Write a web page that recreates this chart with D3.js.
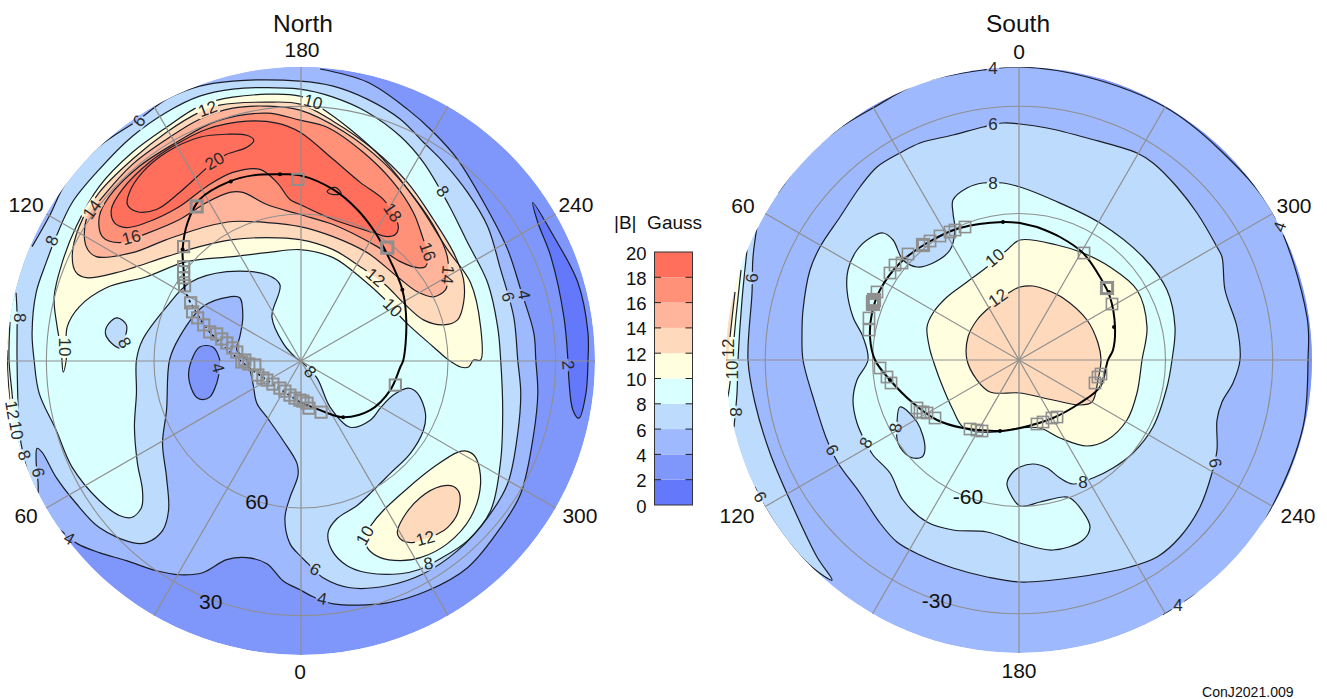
<!DOCTYPE html>
<html><head><meta charset="utf-8">
<script src="https://d3js.org/d3.v7.min.js"></script>
<style>
html,body{margin:0;padding:0;background:#fff}
svg{display:block}
text{font-family:"Liberation Sans",Arial,sans-serif;fill:#111}
</style></head><body><svg id="c" width="1327" height="699"></svg>
<script>
// Colour bands of |B| in Gauss, from 0-2 up to 18-20
const legendTicks=[0,2,4,6,8,10,12,14,16,18,20];
const bandColors=["#6478fc","#7f97fb","#9fb9fe","#bddbfd","#d9ffff","#ffffdf","#ffd9bb","#ffb59b","#ff9179","#ff6f5b"];
const gridAngles=d3.range(0,360,30);
const gridLatitudes=[30,60];

// Contours: [map x, map y] on the projected plane, pole = [0,0], rim radius = 293
const north4=[[19,-291],[66,-278],[106,-251],[132,-228],[156,-201],[186,-151],[206,-111],[219,-71],[232,-28],[234,-1],[236,32],[232,72],[219,132],[199,166],[166,206],[126,229],[86,241],[32,242],[12,235],[-1,228],[-18,219],[-34,202],[-54,196],[-74,198],[-98,211],[-121,213],[-144,209],[-174,199],[-201,191],[-223,182],[-239,169]];
const north2=[[231,-158],[236,-138],[249,-104],[262,-44],[266,-1],[267,19],[271,49],[277,57],[284,32],[286,-1],[286,-28],[276,-78],[252,-124]];
const north6=[[-262,132],[-262,122],[-264,99],[-263,87],[-258,91],[-244,116],[-224,142],[-201,166],[-168,181],[-154,181],[-138,169],[-132,149],[-134,116],[-138,82],[-134,49],[-131,-1],[-121,-24],[-98,-54],[-71,-64],[-61,-63],[-58,-44],[-61,-24],[-64,-11],[-54,-1],[-48,22],[-44,42],[-34,56],[-18,79],[-4,102],[-3,114],[-11,136],[-16,156],[-11,182],[-1,194],[7,202],[22,216],[49,226],[86,224],[122,212],[156,189],[186,156],[206,122],[216,72],[219,32],[216,-1],[212,-44],[199,-91],[186,-134],[166,-168],[142,-198],[122,-218],[99,-241],[66,-261],[32,-274],[-1,-279],[-68,-279],[-101,-274],[-134,-261],[-161,-241],[-201,-214],[-234,-178],[-251,-144],[-268,-114]];
const north4Inner=[[-101,-14],[-88,-14],[-81,-1],[-81,6],[-84,22],[-91,36],[-101,38],[-106,34],[-112,16],[-109,-1]];
const north8=[[-1,-271],[-68,-271],[-101,-264],[-134,-248],[-168,-224],[-201,-191],[-228,-158],[-244,-124],[-254,-98],[-264,-68],[-268,-28],[-266,-1],[-261,32],[-244,69],[-228,106],[-201,139],[-181,154],[-169,156],[-159,146],[-158,129],[-163,102],[-166,66],[-164,32],[-164,-1],[-158,-21],[-134,-54],[-111,-78],[-74,-89],[-34,-86],[-21,-76],[-29,-44],[-18,-18],[-6,-4],[2,2],[16,17],[29,46],[49,66],[69,59],[79,47],[92,34],[107,27],[116,32],[124,52],[122,69],[109,92],[89,112],[72,129],[56,144],[36,157],[27,171],[31,189],[46,204],[66,211],[99,212],[117,208],[137,198],[166,179],[189,149],[199,99],[201,49],[199,-1],[196,-34],[186,-78],[166,-118],[147,-156],[122,-198],[99,-224],[66,-248],[32,-263]];
const north8Island=[[-183,-43],[-174,-36],[-175,-24],[-179,-13],[-189,-18],[-195,-28],[-191,-38]];
const north8Rim=[[-284,-68],[-283,-48],[-283,-1],[-281,66],[-279,82],[-273,109]];
const north10=[[-1,-264],[-68,-263],[-101,-254],[-134,-233],[-168,-208],[-201,-174],[-224,-134],[-238,-98],[-246,-64],[-243,-34],[-239,-11],[-237,11],[-234,-1],[-233,-34],[-221,-54],[-194,-73],[-154,-84],[-114,-99],[-68,-104],[-34,-108],[-1,-111],[32,-103],[62,-81],[82,-63],[104,-39],[132,-14],[147,-1],[159,6],[167,6],[172,-1],[179,-1],[179,-34],[169,-78],[146,-111],[116,-158],[82,-201],[49,-231],[19,-253]];
const north10Lobe=[[71,162],[64,174],[66,186],[79,196],[99,199],[119,196],[146,182],[169,156],[179,122],[174,96],[166,90],[156,91],[132,106],[106,127],[82,149]];
const north10Rim=[[-290,-39],[-291,-1],[-288,32],[-285,66]];
const north12=[[-1,-256],[-34,-258],[-81,-255],[-101,-248],[-134,-228],[-168,-201],[-201,-168],[-221,-134],[-228,-104],[-224,-88],[-214,-83],[-184,-88],[-134,-104],[-101,-114],[-68,-121],[-34,-123],[-1,-121],[32,-111],[59,-94],[84,-76],[102,-58],[122,-41],[142,-36],[156,-41],[162,-58],[162,-81],[152,-108],[132,-141],[106,-178],[72,-211],[32,-239]];
const north12Lobe=[[96,171],[102,156],[119,136],[139,125],[152,125],[158,132],[156,152],[146,166],[137,172],[124,177],[111,181],[101,179]];
const north12Rim=[[-293,-11],[-292,16],[-290,42]];
const north14=[[-1,-250],[-34,-254],[-68,-252],[-101,-241],[-134,-221],[-168,-196],[-198,-163],[-214,-141],[-214,-114],[-204,-104],[-168,-108],[-134,-121],[-94,-134],[-68,-139],[-34,-138],[-1,-134],[32,-124],[66,-108],[96,-84],[116,-69],[132,-64],[144,-71],[146,-78],[146,-103],[136,-128],[112,-164],[82,-198],[42,-229]];
const north16=[[-1,-240],[-34,-247],[-84,-239],[-124,-218],[-161,-194],[-191,-164],[-201,-144],[-198,-124],[-181,-118],[-154,-127],[-121,-141],[-94,-158],[-71,-168],[-58,-168],[-34,-156],[-1,-146],[32,-136],[76,-114],[99,-99],[116,-93],[124,-94],[126,-99],[126,-109],[122,-121],[112,-148],[92,-178],[62,-208],[26,-233]];
const north18=[[-189,-151],[-186,-138],[-174,-133],[-154,-138],[-121,-154],[-94,-174],[-68,-188],[-41,-191],[-24,-178],[-11,-161],[-1,-156],[32,-141],[72,-128],[86,-124],[94,-126],[97,-134],[91,-148],[82,-161],[59,-178],[32,-201],[-1,-228],[-24,-237],[-54,-239],[-94,-231],[-126,-215],[-151,-198],[-178,-171]];
const north20=[[-47,-220],[-54,-225],[-74,-226],[-101,-223],[-134,-208],[-158,-188],[-171,-168],[-173,-156],[-164,-149],[-144,-151],[-121,-168],[-101,-186],[-86,-199],[-74,-206],[-54,-213]];
const north20Island=[[26,-169],[34,-173],[40,-167],[31,-166]];
// [contour, colour band, how it closes: 0 = closed loop, 1 or -1 = runs round the rim in that sense]
const northContours=[[north4,2,1],[north2,0,0],[north6,3,-1],[north4Inner,1,0],[north8,4,0],[north8Island,3,0],[north8Rim,4,1],[north10,5,0],[north10Lobe,5,0],[north10Rim,5,1],[north12,6,0],[north12Lobe,6,0],[north12Rim,6,1],[north14,7,0],[north16,8,0],[north18,9,0],[north20,9,0],[north20Island,9,0]];
const northBase=1;
const northLabels=[["6",-161,-239,-50],["12",-93,-251,-20],["10",12,-258,15],["14",-208,-151,-55],["16",-169,-123,-15],["20",-86,-199,-30],["8",-248,-120,-70],["8",-281,-43,90],["10",-236,-14,90],["8",-176,-18,60],["18",91,-148,55],["16",126,-109,70],["14",146,-86,95],["12",74,-83,40],["10",91,-53,45],["8",141,-169,55],["6",206,-64,75],["4",222,-66,80],["2",266,4,85],["4",-83,7,75],["8",9,11,45],["10",64,174,-60],["12",124,177,-15],["8",127,202,-10],["6",14,208,30],["4",21,237,10],["4",-231,177,30],["6",-262,111,80],["8",-276,94,70],["10",-284,69,80],["12",-288,49,80]];
const northTrack=[[-116,-71],[-117,-91],[-118,-111],[-113,-138],[-101,-161],[-71,-179],[-48,-185],[-21,-186],[-1,-185],[32,-171],[56,-151],[74,-128],[87,-104],[101,-71],[105,-38],[102,-1],[99,6],[89,29],[69,49],[42,56],[19,49],[-1,41]];
const northChain=[[-1,41],[-34,19],[-59,1],[-91,-29],[-110,-58],[-116,-71]];
const northTrackDots=[[-118,-111],[-70,-179],[-21,-186],[101,-71],[42,56]];
const northBoxes=[[-3,-181],[-117,-114],[-117,-94],[-117,-89],[-117,-83],[-116,-75],[-110,-58],[-108,-49],[-103,-43],[-97,-36],[-91,-29],[-84,-27],[-79,-22],[-74,-18],[-68,-13],[-64,-9],[-59,1],[-56,-1],[-52,3],[-46,4],[-43,14],[-38,17],[-34,19],[-28,23],[-21,27],[-16,30],[-11,34],[-6,37],[-1,39],[2,40],[6,42],[8,47],[20,51],[94,24]];
const northBoldBoxes=[[-104,-154],[86,-113]];
const northTicks=[["180",1,-310],["240",274,-156],["300",278,154],["0",-1,309],["60",-274,154],["120",-274,-156],["60",-44,140],["30",-90,240]];

const south4=[[-241,-167],[-216,-200],[-182,-230],[-146,-252],[-99,-277],[-36,-290],[1,-293],[68,-283],[146,-253],[201,-210],[254,-147],[288,-43],[289,0],[284,67],[253,147],[214,207],[168,240],[144,255]];
const south6=[[-16,-237],[-36,-233],[-66,-225],[-99,-217],[-119,-207],[-142,-193],[-159,-173],[-179,-143],[-199,-113],[-209,-90],[-216,-50],[-217,-27],[-216,0],[-206,37],[-192,80],[-181,103],[-159,133],[-139,163],[-122,182],[-99,195],[-66,208],[-32,217],[1,222],[51,218],[111,207],[138,197],[161,177],[181,147],[193,113],[198,90],[198,60],[203,42],[214,23],[221,0],[218,-33],[206,-70],[203,-103],[198,-113],[178,-147],[158,-173],[134,-197],[118,-207],[68,-222],[28,-232],[1,-236]];
const south6Rim=[[-262,-133],[-266,-103],[-267,-67],[-271,0],[-264,43],[-249,93],[-226,147],[-202,197],[-187,220],[-206,208],[-232,180],[-254,147],[-264,127]];
const south8=[[-16,-177],[-36,-177],[-52,-172],[-66,-160],[-66,-147],[-64,-130],[-69,-110],[-86,-97],[-102,-93],[-116,-100],[-126,-120],[-136,-127],[-149,-122],[-162,-110],[-171,-90],[-172,-70],[-166,-43],[-156,-23],[-151,0],[-162,20],[-166,40],[-162,63],[-153,83],[-146,95],[-129,113],[-116,140],[-92,162],[-66,170],[-32,172],[1,183],[34,190],[64,180],[71,167],[64,152],[51,138],[44,137],[21,142],[1,146],[-9,133],[-12,123],[-6,112],[1,107],[14,104],[28,108],[41,118],[54,124],[74,118],[94,108],[114,93],[134,67],[148,27],[153,0],[156,-33],[148,-70],[124,-103],[81,-137],[34,-160],[1,-173]];
const south8Island=[[-119,47],[-102,62],[-94,88],[-97,97],[-109,97],[-121,83],[-122,63]];
const south8Rim=[[-272,-110],[-277,-60],[-281,0],[-282,33],[-285,67]];
const south10=[[1,-120],[-12,-110],[-32,-93],[-52,-78],[-72,-63],[-86,-47],[-92,-33],[-89,-10],[-86,0],[-79,20],[-66,50],[-56,67],[-39,72],[-22,72],[1,68],[21,68],[41,78],[68,86],[88,80],[108,60],[118,33],[123,0],[128,-33],[118,-70],[91,-93],[64,-107],[38,-115]];
const south10Rim=[[-278,-90],[-283,-43],[-286,-10],[-289,23],[-291,37]];
const south12=[[-9,-68],[-29,-53],[-42,-40],[-51,-23],[-52,0],[-42,20],[-29,32],[1,33],[34,40],[61,45],[73,42],[79,20],[82,0],[79,-17],[68,-40],[44,-62],[28,-70],[14,-74],[1,-73]];
const south12Rim=[[-284,-68],[-289,-23],[-292,10]];
const southContours=[[south4,1,-1],[south6,3,0],[south6Rim,3,1],[south8,4,0],[south8Island,3,0],[south8Rim,4,1],[south10,5,0],[south10Rim,5,1],[south12,6,0],[south12Rim,6,1]];
const southBase=2;
const southLabels=[["4",-26,-292,0],["6",-26,-236,0],["8",-26,-177,0],["10",-24,-102,-40],["12",-21,-62,-35],["6",-267,-82,-90],["12",-291,-12,-90],["10",-287,10,-90],["8",-284,52,90],["6",-259,137,60],["6",-187,90,60],["8",-153,83,-60],["8",-123,68,-80],["8",64,122,0],["6",196,103,80],["4",159,245,0],["4",261,-133,-70]];
const southTrack=[[1,-137],[-16,-138],[-59,-132],[-92,-117],[-119,-97],[-139,-70],[-147,-47],[-149,-23],[-144,0],[-129,20],[-106,43],[-82,60],[-56,68],[-19,71],[1,68],[34,58],[61,43],[81,27],[89,0],[94,-10],[96,-33],[91,-63],[81,-83],[64,-107],[41,-123],[18,-133]];
const southChain=[];
const southTrackDots=[[-16,-138],[95,-33],[90,-68],[-129,20],[-19,71]];
const southBoxes=[[-54,-133],[-64,-130],[-69,-128],[-79,-124],[-89,-119],[-111,-106],[-117,-97],[-124,-95],[-129,-87],[-142,-68],[-150,-42],[-150,-30],[-139,8],[-132,17],[-128,23],[-102,48],[-99,52],[-96,52],[-92,53],[-84,58],[-49,69],[-42,70],[-37,71],[18,64],[24,62],[33,58],[38,57],[76,23],[79,17],[82,14],[65,-107],[93,-56]];
const southBoldBoxes=[[-96,-115],[-146,-58],[-146,-56],[-145,-60],[88,-72]];
const southTicks=[["0",0,-309],["300",275,-155],["240",279,155],["180",0,310],["120",-282,155],["60",-276,-155],["-60",-51,136],["-30",-82,240]];

const svg=d3.select("#c");
const RIM=293;

function drawPolar(o){
  const x=d3.scaleLinear().domain([-RIM,RIM]).range([o.cx-o.r,o.cx+o.r]);
  const y=d3.scaleLinear().domain([-RIM,RIM]).range([o.cy-o.r,o.cy+o.r]);
  const g=svg.append("g");
  const defs=g.append("defs");
  defs.append("clipPath").attr("id",o.id+"Clip").append("circle").attr("cx",o.cx).attr("cy",o.cy).attr("r",o.r);
  const open=d3.line().x(d=>x(d[0])).y(d=>y(d[1])).curve(d3.curveCatmullRom.alpha(0.5));
  const loop=d3.line().x(d=>x(d[0])).y(d=>y(d[1])).curve(d3.curveCatmullRomClosed.alpha(0.5));
  const rimClosure=(pts,dir)=>{
    const e=pts[pts.length-1],s=pts[0];
    const a0=Math.atan2(e[1],e[0]);let d=Math.atan2(s[1],s[0])-a0;
    if(dir>0)while(d<0)d+=2*Math.PI; else while(d>0)d-=2*Math.PI;
    const out=[];
    for(let i=0;i<=16;i++){const a=a0+d*i/16;out.push([RIM*1.3*Math.cos(a),RIM*1.3*Math.sin(a)]);}
    return out.map(p=>`L${x(p[0])},${y(p[1])}`).join("")+"Z";
  };
  const fills=g.append("g").attr("clip-path",`url(#${o.id}Clip)`);
  fills.append("circle").attr("cx",o.cx).attr("cy",o.cy).attr("r",o.r).attr("fill",bandColors[o.base]);
  fills.selectAll("path").data(o.contours).join("path")
    .attr("fill",d=>bandColors[d[1]])
    .attr("d",d=>d[2]===0?loop(d[0]):open(d[0])+rimClosure(d[0],d[2]));

  // gaps in the contour lines where their labels sit
  const mask=defs.append("mask").attr("id",o.id+"Mask").attr("maskUnits","userSpaceOnUse")
    .attr("x",o.cx-o.r-10).attr("y",o.cy-o.r-10).attr("width",2*o.r+20).attr("height",2*o.r+20);
  mask.append("rect").attr("x",o.cx-o.r-10).attr("y",o.cy-o.r-10).attr("width",2*o.r+20).attr("height",2*o.r+20).attr("fill","#fff");
  mask.selectAll("rect.gap").data(o.labels).join("rect").attr("class","gap")
    .attr("x",d=>-(d[0].length*9.5+3)/2).attr("y",-7).attr("width",d=>d[0].length*9.5+3).attr("height",14).attr("fill","#000")
    .attr("transform",d=>`translate(${x(d[1])},${y(d[2])}) rotate(${d[3]})`);
  const lines=g.append("g").attr("clip-path",`url(#${o.id}Clip)`).append("g").attr("mask",`url(#${o.id}Mask)`);
  lines.selectAll("path").data(o.contours).join("path")
    .attr("fill","none").attr("stroke","#1a1d26").attr("stroke-width",1.2)
    .attr("d",d=>d[2]===0?loop(d[0]):open(d[0]));

  // graticule (orthographic: radius goes as the cosine of latitude)
  const latR=d3.scaleLinear().domain([0,1]).range([0,o.r]);
  const grid=g.append("g").attr("stroke","#8f8f8f").attr("fill","none");
  grid.selectAll("line").data(gridAngles).join("line").attr("stroke-width",1.2)
    .attr("x1",o.cx).attr("y1",o.cy)
    .attr("x2",a=>o.cx+o.r*Math.cos(a*Math.PI/180)).attr("y2",a=>o.cy+o.r*Math.sin(a*Math.PI/180));
  grid.selectAll("circle").data(gridLatitudes).join("circle").attr("stroke-width",1.1)
    .attr("cx",o.cx).attr("cy",o.cy).attr("r",l=>latR(Math.cos(l*Math.PI/180)));

  // spacecraft track and sample boxes
  g.append("path").attr("d",open(o.track)+(o.chain.length?"":"Z")).attr("fill","none").attr("stroke","#000").attr("stroke-width",2);
  if(o.chain.length)g.append("path").attr("d",open(o.chain)).attr("fill","none").attr("stroke","#000").attr("stroke-width",1.6).attr("stroke-dasharray","3 3");
  g.append("g").selectAll("circle").data(o.dots).join("circle").attr("cx",d=>x(d[0])).attr("cy",d=>y(d[1])).attr("r",2).attr("fill","#000");
  const box=(data,w)=>g.append("g").selectAll("rect").data(data).join("rect")
    .attr("x",d=>x(d[0])-5.6).attr("y",d=>y(d[1])-5.6).attr("width",11.2).attr("height",11.2)
    .attr("fill","none").attr("stroke","#8f8f8f").attr("stroke-width",w);
  box(o.boxes,o.boxWidth); box(o.bold,3);

  // contour labels
  g.append("g").selectAll("text").data(o.labels).join("text")
    .attr("text-anchor","middle").attr("dominant-baseline","central").attr("font-size",17).style("fill","#2a2a2a")
    .attr("transform",d=>`translate(${x(d[1])},${y(d[2])}) rotate(${d[3]})`).text(d=>d[0]);
  // axis labels
  g.append("g").selectAll("text").data(o.ticks).join("text")
    .attr("text-anchor","middle").attr("dominant-baseline","central").attr("font-size",21)
    .attr("x",d=>x(d[1])).attr("y",d=>y(d[2])).text(d=>d[0]);
  g.append("text").attr("x",o.cx+o.titleDx).attr("y",32).attr("text-anchor","middle").attr("font-size",24.5).text(o.title);
}

drawPolar({id:"n",cx:301,cy:361,r:294,title:"North",titleDx:2,base:northBase,contours:northContours,labels:northLabels,track:northTrack,chain:northChain,dots:northTrackDots,boxes:northBoxes,bold:northBoldBoxes,ticks:northTicks,boxWidth:2});
drawPolar({id:"s",cx:1019,cy:360,r:293,title:"South",titleDx:-1,base:southBase,contours:southContours,labels:southLabels,track:southTrack,chain:southChain,dots:southTrackDots,boxes:southBoxes,bold:southBoldBoxes,ticks:southTicks,boxWidth:1.6});

// colour legend
const ly=d3.scaleLinear().domain([0,20]).range([505,252]);
const leg=svg.append("g");
leg.selectAll("rect").data(bandColors).join("rect")
  .attr("x",654.5).attr("width",38).attr("y",(d,i)=>ly((i+1)*2)).attr("height",(d,i)=>ly(i*2)-ly((i+1)*2)).attr("fill",d=>d);
leg.append("rect").attr("x",654.5).attr("y",ly(20)).attr("width",38).attr("height",ly(0)-ly(20)).attr("fill","none").attr("stroke","#333").attr("stroke-width",1);
leg.selectAll("line.l").data(legendTicks.slice(1,-1)).join("line").attr("class","l").attr("x1",654.5).attr("x2",661).attr("y1",d=>ly(d)).attr("y2",d=>ly(d)).attr("stroke","#222");
leg.selectAll("line.r").data(legendTicks.slice(1,-1)).join("line").attr("class","r").attr("x1",685.5).attr("x2",692.5).attr("y1",d=>ly(d)).attr("y2",d=>ly(d)).attr("stroke","#222");
leg.selectAll("text").data(legendTicks).join("text").attr("x",646.5).attr("y",d=>ly(d)+1).attr("text-anchor","end").attr("dominant-baseline","central").attr("font-size",18.5).text(d=>d);
svg.append("text").attr("x",614).attr("y",229).attr("font-size",19).style("white-space","pre").text("|B|  Gauss");
svg.append("text").attr("x",1202).attr("y",697).attr("font-size",14.1).text("ConJ2021.009");
</script></body></html>
